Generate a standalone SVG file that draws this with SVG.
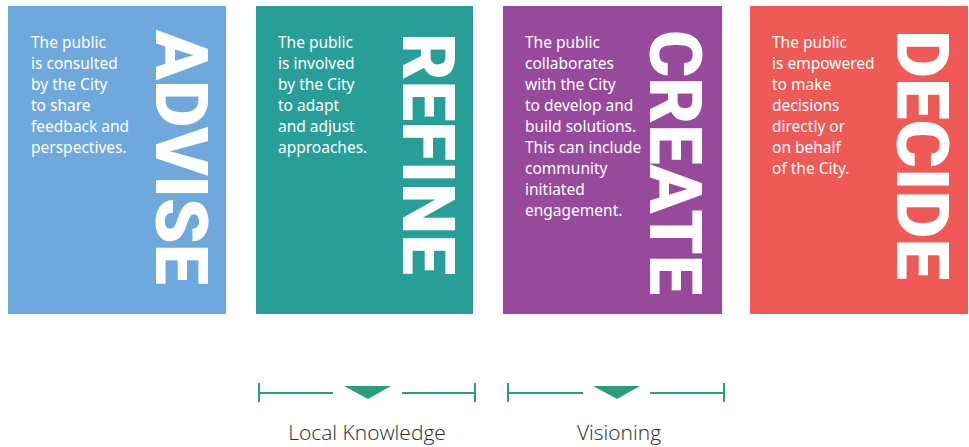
<svg xmlns="http://www.w3.org/2000/svg" width="969" height="447" viewBox="0 0 969 447">
<style>
.box{stroke:none}
.body{font-family:"Noto Sans","Open Sans",sans-serif;font-size:15.5px;fill:#ffffff}
.big{font-family:"Roboto","Liberation Sans",sans-serif;font-weight:900;font-size:72px;fill:#ffffff}
.br{stroke:#2a9d7c;stroke-width:2;fill:none}
.tri{fill:#2a9d7c}
.lbl{font-family:"Open Sans","Noto Sans",sans-serif;font-weight:300;font-size:21px;fill:#2b2b2b;text-anchor:middle}
</style>
<rect width="969" height="447" fill="#ffffff"/>
<g id="advise">
<rect class="box" x="8" y="6" width="218" height="308" fill="#6fa8dc"/>
<text class="body"><tspan x="31" y="48">The public</tspan><tspan x="31" y="69">is consulted</tspan><tspan x="31" y="90">by the City</tspan><tspan x="31" y="111">to share</tspan><tspan x="31" y="132">feedback and</tspan><tspan x="31" y="153">perspectives.</tspan></text>
<text class="big" transform="translate(156,30) rotate(90)" x="0" y="0" textLength="255" lengthAdjust="spacingAndGlyphs">ADVISE</text>
</g>
<g id="refine">
<rect class="box" x="256" y="6" width="217" height="308" fill="#279e98"/>
<text class="body"><tspan x="278" y="48">The public</tspan><tspan x="278" y="69">is involved</tspan><tspan x="278" y="90">by the City</tspan><tspan x="278" y="111">to adapt</tspan><tspan x="278" y="132">and adjust</tspan><tspan x="278" y="153">approaches.</tspan></text>
<text class="big" transform="translate(403,33) rotate(90)" x="0" y="0" textLength="242" lengthAdjust="spacingAndGlyphs">REFINE</text>
</g>
<g id="create">
<rect class="box" x="503" y="6" width="219" height="308" fill="#974a9b"/>
<text class="body"><tspan x="525" y="48">The public</tspan><tspan x="525" y="69">collaborates</tspan><tspan x="525" y="90">with the City</tspan><tspan x="525" y="111">to develop and</tspan><tspan x="525" y="132">build solutions.</tspan><tspan x="525" y="153">This can include</tspan><tspan x="525" y="174">community</tspan><tspan x="525" y="195">initiated</tspan><tspan x="525" y="216">engagement.</tspan></text>
<text class="big" transform="translate(650,30) rotate(90)" x="0" y="0" textLength="265" lengthAdjust="spacingAndGlyphs">CREATE</text>
</g>
<g id="decide">
<rect class="box" x="750" y="6" width="218" height="308" fill="#f05a56"/>
<text class="body"><tspan x="772" y="48">The public</tspan><tspan x="772" y="69">is empowered</tspan><tspan x="772" y="90">to make</tspan><tspan x="772" y="111">decisions</tspan><tspan x="772" y="132">directly or</tspan><tspan x="772" y="153">on behalf</tspan><tspan x="772" y="174">of the City.</tspan></text>
<text class="big" transform="translate(897,30) rotate(90)" x="0" y="0" textLength="250" lengthAdjust="spacingAndGlyphs">DECIDE</text>
</g>
<g id="connectors">
<path class="br" d="M259,383 V402 M259,393 H333 M402,393 H475 M475,383 V402"/>
<polygon class="tri" points="344,386 391,386 368,399"/>
<path class="br" d="M508,383 V402 M508,393 H583 M650,393 H724 M724,383 V402"/>
<polygon class="tri" points="593,386 640,386 617,399"/>
</g>
<g id="local-knowledge"><text class="lbl" x="367" y="440">Local Knowledge</text></g>
<g id="visioning"><text class="lbl" x="619" y="440">Visioning</text></g>
</svg>
